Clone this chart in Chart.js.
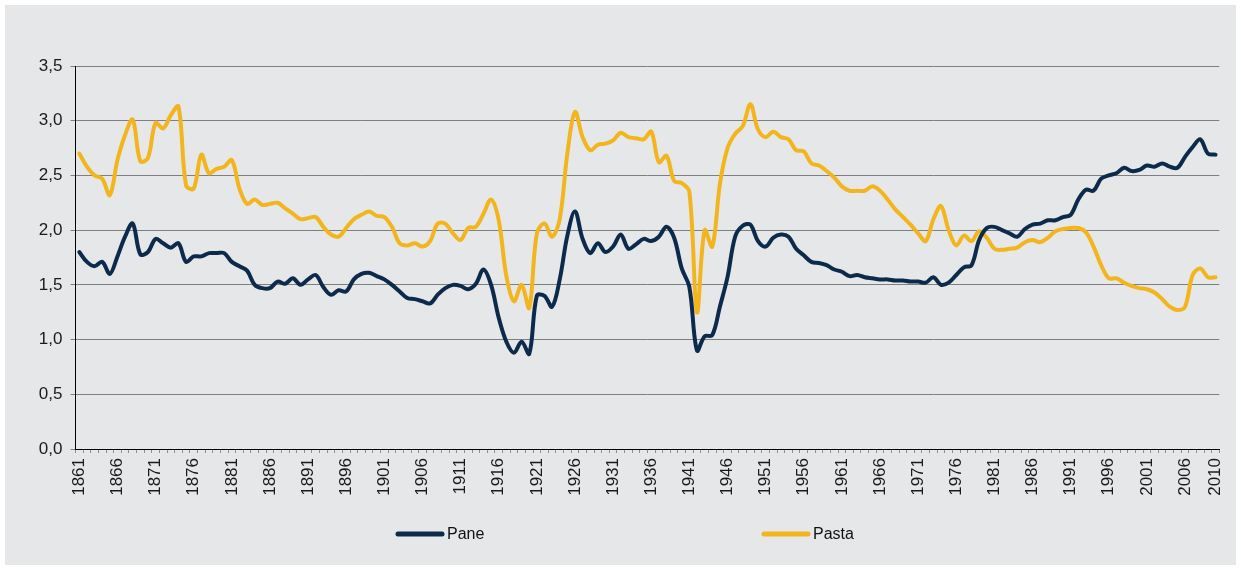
<!DOCTYPE html>
<html>
<head>
<meta charset="utf-8">
<script src="https://cdn.jsdelivr.net/npm/chart.js@4.4.1/dist/chart.umd.min.js"></script>
<style>
  html, body { margin: 0; padding: 0; background: #ffffff; }
  #wrap { position: absolute; left: 0; top: 0; width: 1241px; height: 570px; }
</style>
</head>
<body>
<div id="wrap"><canvas id="chart" width="1241" height="570"></canvas></div>
<script>
// years 1861..2010
const years = [];
for (let y = 1861; y <= 2010; y++) years.push(String(y));

const pane = [
  1.80, 1.71, 1.67, 1.71, 1.60, 1.76, 1.94, 2.06, 1.78, 1.80,
  1.92, 1.88, 1.84, 1.88, 1.71, 1.76, 1.76, 1.79, 1.79, 1.79,
  1.71, 1.67, 1.63, 1.50, 1.47, 1.47, 1.53, 1.51, 1.56, 1.50,
  1.55, 1.59, 1.48, 1.41, 1.45, 1.44, 1.55, 1.60, 1.61, 1.58,
  1.55, 1.50, 1.44, 1.38, 1.37, 1.35, 1.33, 1.41, 1.47, 1.50,
  1.49, 1.46, 1.51, 1.64, 1.50, 1.20, 0.98, 0.88, 0.98, 0.87,
  1.40, 1.40, 1.30, 1.55, 1.95, 2.17, 1.92, 1.79, 1.88, 1.80,
  1.85, 1.96, 1.83, 1.87, 1.92, 1.90, 1.94, 2.03, 1.93, 1.65,
  1.48, 0.90, 1.03, 1.04, 1.30, 1.57, 1.94, 2.04, 2.05, 1.90,
  1.85, 1.93, 1.96, 1.94, 1.83, 1.77, 1.71, 1.70, 1.68, 1.64,
  1.62, 1.58, 1.59, 1.57, 1.56, 1.55, 1.55, 1.54, 1.54, 1.53,
  1.53, 1.52, 1.57, 1.50, 1.52, 1.59, 1.66, 1.68, 1.91, 2.02,
  2.03, 2.00, 1.97, 1.94, 2.01, 2.05, 2.06, 2.09, 2.09, 2.12,
  2.14, 2.28, 2.37, 2.36, 2.47, 2.50, 2.52, 2.57, 2.54, 2.55,
  2.59, 2.58, 2.61, 2.58, 2.57, 2.67, 2.76, 2.83, 2.70, 2.69
];

const pasta = [
  2.70, 2.58, 2.50, 2.47, 2.32, 2.64, 2.87, 3.01, 2.63, 2.66,
  2.98, 2.93, 3.05, 3.13, 2.41, 2.38, 2.69, 2.52, 2.56, 2.58,
  2.64, 2.38, 2.24, 2.28, 2.23, 2.24, 2.25, 2.20, 2.15, 2.10,
  2.11, 2.12, 2.03, 1.96, 1.94, 2.02, 2.10, 2.14, 2.17, 2.13,
  2.12, 2.03, 1.88, 1.86, 1.88, 1.85, 1.90, 2.06, 2.06, 1.97,
  1.91, 2.02, 2.03, 2.15, 2.28, 2.09, 1.58, 1.35, 1.50, 1.29,
  1.97, 2.06, 1.94, 2.10, 2.70, 3.08, 2.85, 2.73, 2.78, 2.79,
  2.82, 2.89, 2.85, 2.84, 2.83, 2.90, 2.62, 2.68, 2.45, 2.43,
  2.35, 1.25, 2.00, 1.85, 2.42, 2.75, 2.88, 2.95, 3.15, 2.92,
  2.85, 2.90, 2.85, 2.83, 2.73, 2.72, 2.61, 2.59, 2.54, 2.48,
  2.40, 2.36, 2.36, 2.36, 2.40, 2.36, 2.28, 2.19, 2.12, 2.05,
  1.97, 1.90, 2.10, 2.22, 2.00, 1.86, 1.95, 1.90, 1.99, 1.93,
  1.83, 1.82, 1.83, 1.84, 1.89, 1.91, 1.89, 1.93, 1.99, 2.01,
  2.02, 2.02, 1.98, 1.85, 1.68, 1.56, 1.56, 1.52, 1.49, 1.47,
  1.46, 1.43, 1.37, 1.30, 1.27, 1.30, 1.59, 1.65, 1.57, 1.57
];

const seriesNames = ["Pane", "Pasta"];
const seriesColors = ["#0c2a4b", "#f2b51e"];

const yMin = 0;
const yMax = 3.5;
const yStep = 0.5;

const FONT = "'Liberation Sans', Arial, sans-serif";

// gray panel behind everything
const panelBg = {
  id: "panelBg",
  beforeDraw(chart) {
    const ctx = chart.ctx;
    ctx.save();
    ctx.fillStyle = "#ffffff";
    ctx.fillRect(0, 0, chart.width, chart.height);
    ctx.fillStyle = "#e6e7e8";
    ctx.fillRect(5, 5, chart.width - 10, chart.height - 10);
    ctx.restore();
  }
};

// legend with line samples, spaced like the original
const lineLegend = {
  id: "lineLegend",
  afterDraw(chart, args, opts) {
    const ctx = chart.ctx;
    ctx.save();
    ctx.font = "16px " + FONT;
    ctx.textBaseline = "middle";
    chart.data.datasets.forEach((ds, i) => {
      const x = opts.starts[i];
      ctx.strokeStyle = ds.borderColor;
      ctx.lineWidth = 5;
      ctx.lineCap = "round";
      ctx.beginPath();
      ctx.moveTo(x + 2, opts.y);
      ctx.lineTo(x + 46, opts.y);
      ctx.stroke();
      ctx.fillStyle = "#111111";
      ctx.fillText(ds.label, x + 51, opts.y + 1);
    });
    ctx.restore();
  }
};

new Chart(document.getElementById("chart"), {
  type: "line",
  data: {
    labels: years,
    datasets: [
      { label: seriesNames[0], data: pane, borderColor: seriesColors[0] },
      { label: seriesNames[1], data: pasta, borderColor: seriesColors[1] }
    ]
  },
  options: {
    responsive: false,
    animation: false,
    devicePixelRatio: 1,
    layout: { padding: { top: 66, right: 18, left: 0, bottom: 0 } },
    elements: {
      point: { radius: 0 },
      line: { borderWidth: 4, tension: 0.35, borderCapStyle: "round", borderJoinStyle: "round", fill: false }
    },
    plugins: {
      legend: { display: false },
      tooltip: { enabled: false },
      lineLegend: { starts: [396, 762], y: 534 }
    },
    scales: {
      x: {
        offset: true,
        afterFit(scale) { scale.height = 121; },
        grid: { drawOnChartArea: false, drawTicks: true, tickLength: 4, color: "#8c8c8c", offset: true },
        border: { display: true, color: "#000000", width: 1 },
        ticks: {
          autoSkip: false,
          maxRotation: 90,
          minRotation: 90,
          padding: 5,
          color: "#1a1a1a",
          font: { family: FONT, size: 17 },
          callback(val, idx) {
            return (idx % 5 === 0 || idx === years.length - 1) ? years[idx] : "";
          }
        }
      },
      y: {
        min: yMin,
        max: yMax,
        afterFit(scale) { scale.width = 75.5; },
        grid: { color: "#7f7f7f", lineWidth: 1, tickLength: 5 },
        border: { display: true, color: "#000000", width: 1 },
        ticks: {
          stepSize: yStep,
          padding: 8,
          color: "#1a1a1a",
          font: { family: FONT, size: 17 },
          callback(v) { return v.toFixed(1).replace(".", ","); }
        }
      }
    }
  },
  plugins: [panelBg, lineLegend]
});
</script>
</body>
</html>
